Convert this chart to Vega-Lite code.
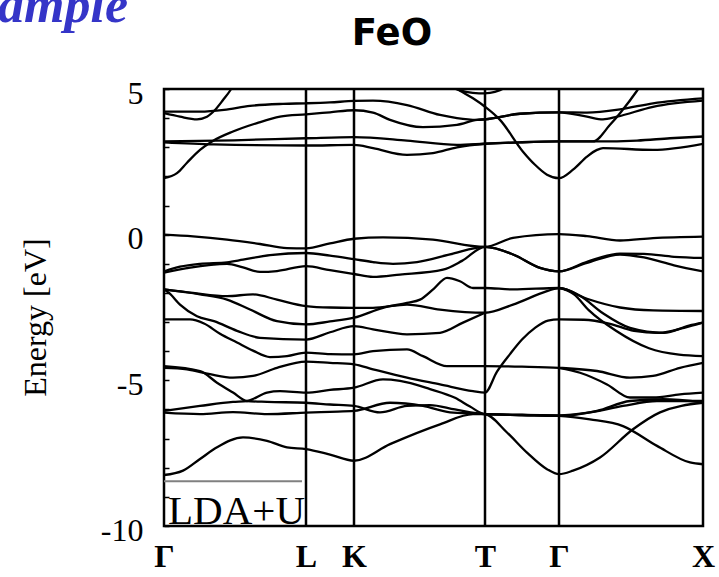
{
  "$schema": "https://vega.github.io/schema/vega-lite/v6.json",
  "width": 539,
  "height": 437,
  "autosize": {"type": "none"},
  "padding": {"left": 164, "top": 89, "right": 16, "bottom": 51},
  "background": "white",
  "config": {"view": {"stroke": "black", "strokeWidth": 2.5}, "axis": {"labelOverlap": false}},
  "datasets": {
    "bands": [
      {"band":"CB1","k":0,"E":1.94},{"band":"CB1","k":13,"E":2.11},{"band":"CB1","k":23,"E":2.47},{"band":"CB1","k":36,"E":2.91},{"band":"CB1","k":48,"E":3.2},{"band":"CB1","k":69,"E":3.54},{"band":"CB1","k":93,"E":3.83},{"band":"CB1","k":116,"E":4.05},{"band":"CB1","k":142,"E":4.13},{"band":"CB1","k":166,"E":4.2},{"band":"CB1","k":190,"E":4.27},{"band":"CB1","k":209,"E":4.19},{"band":"CB1","k":226,"E":3.94},{"band":"CB1","k":259,"E":3.69},{"band":"CB1","k":293,"E":3.77},{"band":"CB1","k":313,"E":3.94},{"band":"CB1","k":321,"E":3.96},{"band":"CB1","k":356,"E":4.15},{"band":"CB1","k":395,"E":4.2},{"band":"CB1","k":423,"E":4.19},{"band":"CB1","k":456,"E":4.3},{"band":"CB1","k":489,"E":4.51},{"band":"CB1","k":539,"E":4.68},
      {"band":"CB2","k":0,"E":4.22},{"band":"CB2","k":36,"E":4.22},{"band":"CB2","k":60,"E":4.28},{"band":"CB2","k":86,"E":4.42},{"band":"CB2","k":119,"E":4.49},{"band":"CB2","k":142,"E":4.51},{"band":"CB2","k":166,"E":4.54},{"band":"CB2","k":190,"E":4.59},{"band":"CB2","k":209,"E":4.6},{"band":"CB2","k":243,"E":4.45},{"band":"CB2","k":276,"E":4.11},{"band":"CB2","k":293,"E":4.0},{"band":"CB2","k":313,"E":3.94},{"band":"CB2","k":321,"E":3.96},{"band":"CB2","k":356,"E":4.15},{"band":"CB2","k":395,"E":4.2},{"band":"CB2","k":423,"E":4.05},{"band":"CB2","k":439,"E":3.96},{"band":"CB2","k":453,"E":4.05},{"band":"CB2","k":489,"E":4.39},{"band":"CB2","k":539,"E":4.6},
      {"band":"CB3","k":0,"E":3.2},{"band":"CB3","k":70,"E":3.24},{"band":"CB3","k":142,"E":3.31},{"band":"CB3","k":190,"E":3.35},{"band":"CB3","k":243,"E":3.23},{"band":"CB3","k":293,"E":3.08},{"band":"CB3","k":321,"E":3.12},{"band":"CB3","k":356,"E":3.17},{"band":"CB3","k":395,"E":3.2},{"band":"CB3","k":433,"E":3.2},{"band":"CB3","k":473,"E":3.23},{"band":"CB3","k":506,"E":3.31},{"band":"CB3","k":539,"E":3.37},
      {"band":"CB4","k":0,"E":3.17},{"band":"CB4","k":50,"E":3.1},{"band":"CB4","k":142,"E":3.06},{"band":"CB4","k":190,"E":3.08},{"band":"CB4","k":209,"E":2.97},{"band":"CB4","k":243,"E":2.74},{"band":"CB4","k":269,"E":2.8},{"band":"CB4","k":293,"E":3.0},{"band":"CB4","k":321,"E":3.12},{"band":"CB4","k":356,"E":3.17},{"band":"CB4","k":395,"E":3.2},{"band":"CB4","k":429,"E":3.2},{"band":"CB4","k":446,"E":3.77},{"band":"CB4","k":456,"E":4.17},{"band":"CB4","k":473,"E":4.94},{"band":"CB4","k":480,"E":5.3},
      {"band":"CB5","k":0,"E":4.17},{"band":"CB5","k":16,"E":4.05},{"band":"CB5","k":33,"E":3.96},{"band":"CB5","k":43,"E":4.05},{"band":"CB5","k":51,"E":4.28},{"band":"CB5","k":59,"E":4.62},{"band":"CB5","k":66,"E":4.94},{"band":"CB5","k":72,"E":5.3},
      {"band":"CB6","k":284,"E":5.2},{"band":"CB6","k":296,"E":4.94},{"band":"CB6","k":309,"E":4.68},{"band":"CB6","k":321,"E":4.39},{"band":"CB6","k":336,"E":3.94},{"band":"CB6","k":359,"E":2.85},{"band":"CB6","k":371,"E":2.4},{"band":"CB6","k":383,"E":2.06},{"band":"CB6","k":395,"E":1.94},{"band":"CB6","k":409,"E":2.23},{"band":"CB6","k":423,"E":2.68},{"band":"CB6","k":433,"E":2.91},{"band":"CB6","k":439,"E":2.97},{"band":"CB6","k":489,"E":2.91},{"band":"CB6","k":539,"E":3.12},
      {"band":"CB7","k":288,"E":5.05},{"band":"CB7","k":302,"E":4.9},{"band":"CB7","k":315,"E":4.85},{"band":"CB7","k":326,"E":4.87},{"band":"CB7","k":336,"E":4.96},{"band":"CB7","k":344,"E":5.1},
      {"band":"VB1","k":0,"E":0.0},{"band":"VB1","k":29,"E":-0.06},{"band":"VB1","k":63,"E":-0.17},{"band":"VB1","k":96,"E":-0.32},{"band":"VB1","k":123,"E":-0.46},{"band":"VB1","k":142,"E":-0.47},{"band":"VB1","k":166,"E":-0.3},{"band":"VB1","k":190,"E":-0.14},{"band":"VB1","k":219,"E":-0.09},{"band":"VB1","k":269,"E":-0.17},{"band":"VB1","k":321,"E":-0.42},{"band":"VB1","k":349,"E":-0.11},{"band":"VB1","k":395,"E":0.02},{"band":"VB1","k":423,"E":-0.05},{"band":"VB1","k":456,"E":-0.2},{"band":"VB1","k":489,"E":-0.12},{"band":"VB1","k":539,"E":-0.07},
      {"band":"VB2","k":0,"E":-1.26},{"band":"VB2","k":16,"E":-1.1},{"band":"VB2","k":36,"E":-1.0},{"band":"VB2","k":63,"E":-0.95},{"band":"VB2","k":79,"E":-0.86},{"band":"VB2","k":106,"E":-0.7},{"band":"VB2","k":142,"E":-0.63},{"band":"VB2","k":166,"E":-0.72},{"band":"VB2","k":190,"E":-0.84},{"band":"VB2","k":209,"E":-0.94},{"band":"VB2","k":229,"E":-1.0},{"band":"VB2","k":253,"E":-0.94},{"band":"VB2","k":286,"E":-0.68},{"band":"VB2","k":321,"E":-0.42},{"band":"VB2","k":349,"E":-0.68},{"band":"VB2","k":376,"E":-1.14},{"band":"VB2","k":395,"E":-1.26},{"band":"VB2","k":423,"E":-0.93},{"band":"VB2","k":456,"E":-0.65},{"band":"VB2","k":480,"E":-0.66},{"band":"VB2","k":510,"E":-0.76},{"band":"VB2","k":539,"E":-0.8},
      {"band":"VB3","k":0,"E":-1.3},{"band":"VB3","k":23,"E":-1.15},{"band":"VB3","k":63,"E":-1.0},{"band":"VB3","k":79,"E":-1.12},{"band":"VB3","k":96,"E":-1.28},{"band":"VB3","k":113,"E":-1.25},{"band":"VB3","k":142,"E":-1.08},{"band":"VB3","k":166,"E":-1.22},{"band":"VB3","k":190,"E":-1.35},{"band":"VB3","k":209,"E":-1.45},{"band":"VB3","k":236,"E":-1.37},{"band":"VB3","k":279,"E":-1.2},{"band":"VB3","k":298,"E":-0.9},{"band":"VB3","k":321,"E":-0.42},{"band":"VB3","k":349,"E":-0.68},{"band":"VB3","k":376,"E":-1.14},{"band":"VB3","k":395,"E":-1.26},{"band":"VB3","k":423,"E":-0.97},{"band":"VB3","k":456,"E":-0.68},{"band":"VB3","k":480,"E":-0.78},{"band":"VB3","k":510,"E":-1.05},{"band":"VB3","k":539,"E":-1.26},
      {"band":"VB4","k":0,"E":-1.88},{"band":"VB4","k":29,"E":-2.0},{"band":"VB4","k":63,"E":-2.11},{"band":"VB4","k":89,"E":-2.05},{"band":"VB4","k":113,"E":-2.23},{"band":"VB4","k":142,"E":-2.45},{"band":"VB4","k":166,"E":-2.5},{"band":"VB4","k":190,"E":-2.51},{"band":"VB4","k":209,"E":-2.51},{"band":"VB4","k":243,"E":-2.4},{"band":"VB4","k":276,"E":-2.57},{"band":"VB4","k":321,"E":-2.68},{"band":"VB4","k":349,"E":-2.4},{"band":"VB4","k":383,"E":-1.94},{"band":"VB4","k":395,"E":-1.83},{"band":"VB4","k":423,"E":-2.2},{"band":"VB4","k":456,"E":-2.5},{"band":"VB4","k":489,"E":-2.6},{"band":"VB4","k":539,"E":-2.62},
      {"band":"VB5","k":0,"E":-1.88},{"band":"VB5","k":36,"E":-2.05},{"band":"VB5","k":63,"E":-2.23},{"band":"VB5","k":86,"E":-2.57},{"band":"VB5","k":113,"E":-2.97},{"band":"VB5","k":142,"E":-3.08},{"band":"VB5","k":166,"E":-2.98},{"band":"VB5","k":190,"E":-2.85},{"band":"VB5","k":219,"E":-2.51},{"band":"VB5","k":243,"E":-2.34},{"band":"VB5","k":256,"E":-2.23},{"band":"VB5","k":270,"E":-1.85},{"band":"VB5","k":283,"E":-1.48},{"band":"VB5","k":296,"E":-1.6},{"band":"VB5","k":309,"E":-1.83},{"band":"VB5","k":321,"E":-1.83},{"band":"VB5","k":349,"E":-1.88},{"band":"VB5","k":395,"E":-1.83},{"band":"VB5","k":416,"E":-2.1},{"band":"VB5","k":439,"E":-2.7},{"band":"VB5","k":466,"E":-3.2},{"band":"VB5","k":500,"E":-3.37},{"band":"VB5","k":525,"E":-3.12},{"band":"VB5","k":539,"E":-3.02},
      {"band":"VB6","k":0,"E":-1.88},{"band":"VB6","k":5,"E":-2.0},{"band":"VB6","k":16,"E":-2.4},{"band":"VB6","k":33,"E":-2.8},{"band":"VB6","k":50,"E":-2.97},{"band":"VB6","k":73,"E":-3.3},{"band":"VB6","k":96,"E":-3.54},{"band":"VB6","k":142,"E":-3.6},{"band":"VB6","k":166,"E":-3.35},{"band":"VB6","k":190,"E":-3.14},{"band":"VB6","k":209,"E":-3.25},{"band":"VB6","k":243,"E":-3.42},{"band":"VB6","k":276,"E":-3.37},{"band":"VB6","k":299,"E":-3.02},{"band":"VB6","k":321,"E":-2.68},
      {"band":"VB6x","k":395,"E":-1.83},{"band":"VB6x","k":410,"E":-2.05},{"band":"VB6x","k":425,"E":-2.6},{"band":"VB6x","k":452,"E":-3.3},{"band":"VB6x","k":485,"E":-3.9},{"band":"VB6x","k":515,"E":-4.12},{"band":"VB6x","k":539,"E":-4.17},
      {"band":"VB7","k":0,"E":-2.91},{"band":"VB7","k":26,"E":-2.91},{"band":"VB7","k":40,"E":-3.05},{"band":"VB7","k":56,"E":-3.4},{"band":"VB7","k":73,"E":-3.7},{"band":"VB7","k":89,"E":-3.98},{"band":"VB7","k":106,"E":-4.2},{"band":"VB7","k":123,"E":-4.17},{"band":"VB7","k":142,"E":-4.05},{"band":"VB7","k":166,"E":-4.1},{"band":"VB7","k":190,"E":-4.11},{"band":"VB7","k":209,"E":-4.0},{"band":"VB7","k":243,"E":-3.94},{"band":"VB7","k":259,"E":-4.17},{"band":"VB7","k":283,"E":-4.51},{"band":"VB7","k":321,"E":-4.51},{"band":"VB7","k":358,"E":-4.53},{"band":"VB7","k":395,"E":-4.57},{"band":"VB7","k":433,"E":-4.68},{"band":"VB7","k":466,"E":-4.91},{"band":"VB7","k":489,"E":-4.85},{"band":"VB7","k":516,"E":-4.57},{"band":"VB7","k":539,"E":-4.4},
      {"band":"VB8","k":0,"E":-4.57},{"band":"VB8","k":23,"E":-4.62},{"band":"VB8","k":46,"E":-4.79},{"band":"VB8","k":69,"E":-4.91},{"band":"VB8","k":89,"E":-4.85},{"band":"VB8","k":113,"E":-4.57},{"band":"VB8","k":142,"E":-4.36},{"band":"VB8","k":166,"E":-4.4},{"band":"VB8","k":190,"E":-4.45},{"band":"VB8","k":209,"E":-4.62},{"band":"VB8","k":243,"E":-4.91},{"band":"VB8","k":276,"E":-5.14},{"band":"VB8","k":309,"E":-5.37},{"band":"VB8","k":321,"E":-5.42},{"band":"VB8","k":333,"E":-4.7},{"band":"VB8","k":346,"E":-4.1},{"band":"VB8","k":358,"E":-3.6},{"band":"VB8","k":371,"E":-3.2},{"band":"VB8","k":384,"E":-2.95},{"band":"VB8","k":395,"E":-2.91},{"band":"VB8","k":420,"E":-2.92},{"band":"VB8","k":445,"E":-3.05},{"band":"VB8","k":470,"E":-3.3},{"band":"VB8","k":495,"E":-3.37},{"band":"VB8","k":520,"E":-3.2},{"band":"VB8","k":539,"E":-3.02},
      {"band":"VB8x","k":395,"E":-4.57},{"band":"VB8x","k":416,"E":-4.74},{"band":"VB8x","k":443,"E":-5.14},{"band":"VB8x","k":466,"E":-5.59},{"band":"VB8x","k":489,"E":-5.59},{"band":"VB8x","k":516,"E":-5.48},{"band":"VB8x","k":539,"E":-5.42},
      {"band":"VB9","k":0,"E":-4.51},{"band":"VB9","k":36,"E":-4.68},{"band":"VB9","k":53,"E":-5.08},{"band":"VB9","k":69,"E":-5.42},{"band":"VB9","k":83,"E":-5.71},{"band":"VB9","k":103,"E":-5.74},{"band":"VB9","k":142,"E":-5.77},{"band":"VB9","k":166,"E":-5.83},{"band":"VB9","k":190,"E":-5.88},{"band":"VB9","k":216,"E":-6.1},{"band":"VB9","k":243,"E":-5.88},{"band":"VB9","k":266,"E":-5.85},{"band":"VB9","k":291,"E":-6.0},{"band":"VB9","k":321,"E":-6.16},{"band":"VB9","k":358,"E":-6.19},{"band":"VB9","k":395,"E":-6.22},{"band":"VB9","k":433,"E":-6.05},{"band":"VB9","k":466,"E":-5.71},{"band":"VB9","k":499,"E":-5.65},{"band":"VB9","k":539,"E":-5.76},
      {"band":"VB10","k":0,"E":-6.05},{"band":"VB10","k":36,"E":-5.88},{"band":"VB10","k":69,"E":-5.74},{"band":"VB10","k":83,"E":-5.71},{"band":"VB10","k":103,"E":-5.42},{"band":"VB10","k":116,"E":-5.37},{"band":"VB10","k":142,"E":-5.42},{"band":"VB10","k":166,"E":-5.33},{"band":"VB10","k":190,"E":-5.25},{"band":"VB10","k":219,"E":-4.97},{"band":"VB10","k":236,"E":-5.02},{"band":"VB10","k":266,"E":-5.3},{"band":"VB10","k":291,"E":-5.6},{"band":"VB10","k":306,"E":-5.9},{"band":"VB10","k":321,"E":-6.16},{"band":"VB10","k":358,"E":-6.19},{"band":"VB10","k":395,"E":-6.22},{"band":"VB10","k":426,"E":-6.34},{"band":"VB10","k":459,"E":-6.57},{"band":"VB10","k":493,"E":-7.25},{"band":"VB10","k":526,"E":-7.82},{"band":"VB10","k":539,"E":-7.88},
      {"band":"VB11","k":0,"E":-6.11},{"band":"VB11","k":36,"E":-6.16},{"band":"VB11","k":69,"E":-6.09},{"band":"VB11","k":103,"E":-6.16},{"band":"VB11","k":142,"E":-6.11},{"band":"VB11","k":166,"E":-6.08},{"band":"VB11","k":190,"E":-6.05},{"band":"VB11","k":226,"E":-5.77},{"band":"VB11","k":259,"E":-5.88},{"band":"VB11","k":286,"E":-6.1},{"band":"VB11","k":321,"E":-6.16},{"band":"VB11","k":343,"E":-6.79},{"band":"VB11","k":363,"E":-7.48},{"band":"VB11","k":383,"E":-8.05},{"band":"VB11","k":395,"E":-8.22},{"band":"VB11","k":409,"E":-8.1},{"band":"VB11","k":436,"E":-7.65},{"band":"VB11","k":469,"E":-6.68},{"band":"VB11","k":496,"E":-6.1},{"band":"VB11","k":539,"E":-5.77},
      {"band":"VB12","k":0,"E":-8.25},{"band":"VB12","k":19,"E":-8.1},{"band":"VB12","k":36,"E":-7.7},{"band":"VB12","k":53,"E":-7.3},{"band":"VB12","k":79,"E":-6.96},{"band":"VB12","k":103,"E":-7.08},{"band":"VB12","k":123,"E":-7.3},{"band":"VB12","k":142,"E":-7.36},{"band":"VB12","k":166,"E":-7.55},{"band":"VB12","k":190,"E":-7.76},{"band":"VB12","k":226,"E":-7.19},{"band":"VB12","k":276,"E":-6.51},{"band":"VB12","k":309,"E":-6.16},{"band":"VB12","k":321,"E":-6.16},{"band":"VB12","k":358,"E":-6.19},{"band":"VB12","k":395,"E":-6.2},{"band":"VB12","k":426,"E":-6.1},{"band":"VB12","k":459,"E":-5.88},{"band":"VB12","k":493,"E":-5.71},{"band":"VB12","k":539,"E":-5.71}
    ],
    "sym": [{"k":142,"point":"L"},{"k":190,"point":"K"},{"k":321,"point":"T"},{"k":395,"point":"Γ"}],
    "ldaline": [{"k":0,"k2":138,"E":-8.46}],
    "ldatext": [{"k":4,"E":-9.93,"t":"LDA+U"}],
    "heading": [{"k":-36,"E":7.29,"t":"Example"}],
    "chartname": [{"k":228,"E":6.51,"t":"FeO"}]
  },
  "layer": [
    {
      "data": {"name": "bands"},
      "mark": {"type": "line", "interpolate": "monotone", "color": "black", "strokeWidth": 2.3, "clip": true},
      "encoding": {
        "x": {"field": "k", "type": "quantitative", "scale": {"domain": [0, 539], "nice": false, "zero": false},
          "axis": {"values": [0, 142, 190, 321, 395, 539], "tickCount": 20, "labelExpr": "datum.value == 142 ? 'L' : datum.value == 190 ? 'K' : datum.value == 321 ? 'T' : datum.value == 539 ? 'X' : 'Γ'", "ticks": false, "domain": false, "grid": false, "title": null, "labelFont": "Liberation Serif", "labelFontSize": 32, "labelFontWeight": "bold", "labelColor": "black", "labelPadding": 15, "labelBaseline": "top", "labelFlush": false, "labelOverlap": false}},
        "y": {"field": "E", "type": "quantitative", "scale": {"domain": [-10, 5], "nice": false, "zero": false},
          "axis": {"values": [-10,-9,-8,-7,-6,-5,-4,-3,-2,-1,0,1,2,3,4,5], "tickCount": 20, "labelExpr": "datum.value % 5 == 0 ? '' + datum.value : ''", "labelFontSize": {"condition": {"test": "datum.value % 5 == 0", "value": 32}, "value": 1}, "tickSize": -5, "tickWidth": 1.5, "tickColor": "black", "domain": false, "grid": false, "labelPadding": 26, "labelOffset": 4, "labelFont": "Liberation Serif", "labelColor": "black", "labelOverlap": false, "labelFlush": false, "title": "Energy [eV]", "titleFont": "Liberation Serif", "titleFontSize": 32, "titleFontWeight": "normal", "titleColor": "black", "titlePadding": 48, "titleY": 228}},
        "detail": {"field": "band", "type": "nominal"}
      }
    },
    {
      "data": {"name": "sym"},
      "mark": {"type": "rule", "color": "black", "strokeWidth": 2.5},
      "encoding": {"x": {"field": "k", "type": "quantitative"}}
    },
    {
      "data": {"name": "ldaline"},
      "mark": {"type": "rule", "color": "#808080", "strokeWidth": 2},
      "encoding": {"x": {"field": "k", "type": "quantitative"}, "x2": {"field": "k2"}, "y": {"field": "E", "type": "quantitative"}}
    },
    {
      "data": {"name": "ldatext"},
      "mark": {"type": "text", "align": "left", "baseline": "alphabetic", "font": "Liberation Serif", "fontSize": 41, "color": "black"},
      "encoding": {"x": {"field": "k", "type": "quantitative"}, "y": {"field": "E", "type": "quantitative"}, "text": {"field": "t"}}
    },
    {
      "data": {"name": "heading"},
      "mark": {"type": "text", "align": "right", "baseline": "alphabetic", "font": "Liberation Serif", "fontSize": 52, "fontStyle": "italic", "fontWeight": "bold", "color": "#3535c8"},
      "encoding": {"x": {"field": "k", "type": "quantitative"}, "y": {"field": "E", "type": "quantitative"}, "text": {"field": "t"}}
    },
    {
      "data": {"name": "chartname"},
      "mark": {"type": "text", "align": "center", "baseline": "alphabetic", "font": "DejaVu Sans", "fontSize": 37, "fontWeight": "bold", "color": "black"},
      "encoding": {"x": {"field": "k", "type": "quantitative"}, "y": {"field": "E", "type": "quantitative"}, "text": {"field": "t"}}
    }
  ]
}
